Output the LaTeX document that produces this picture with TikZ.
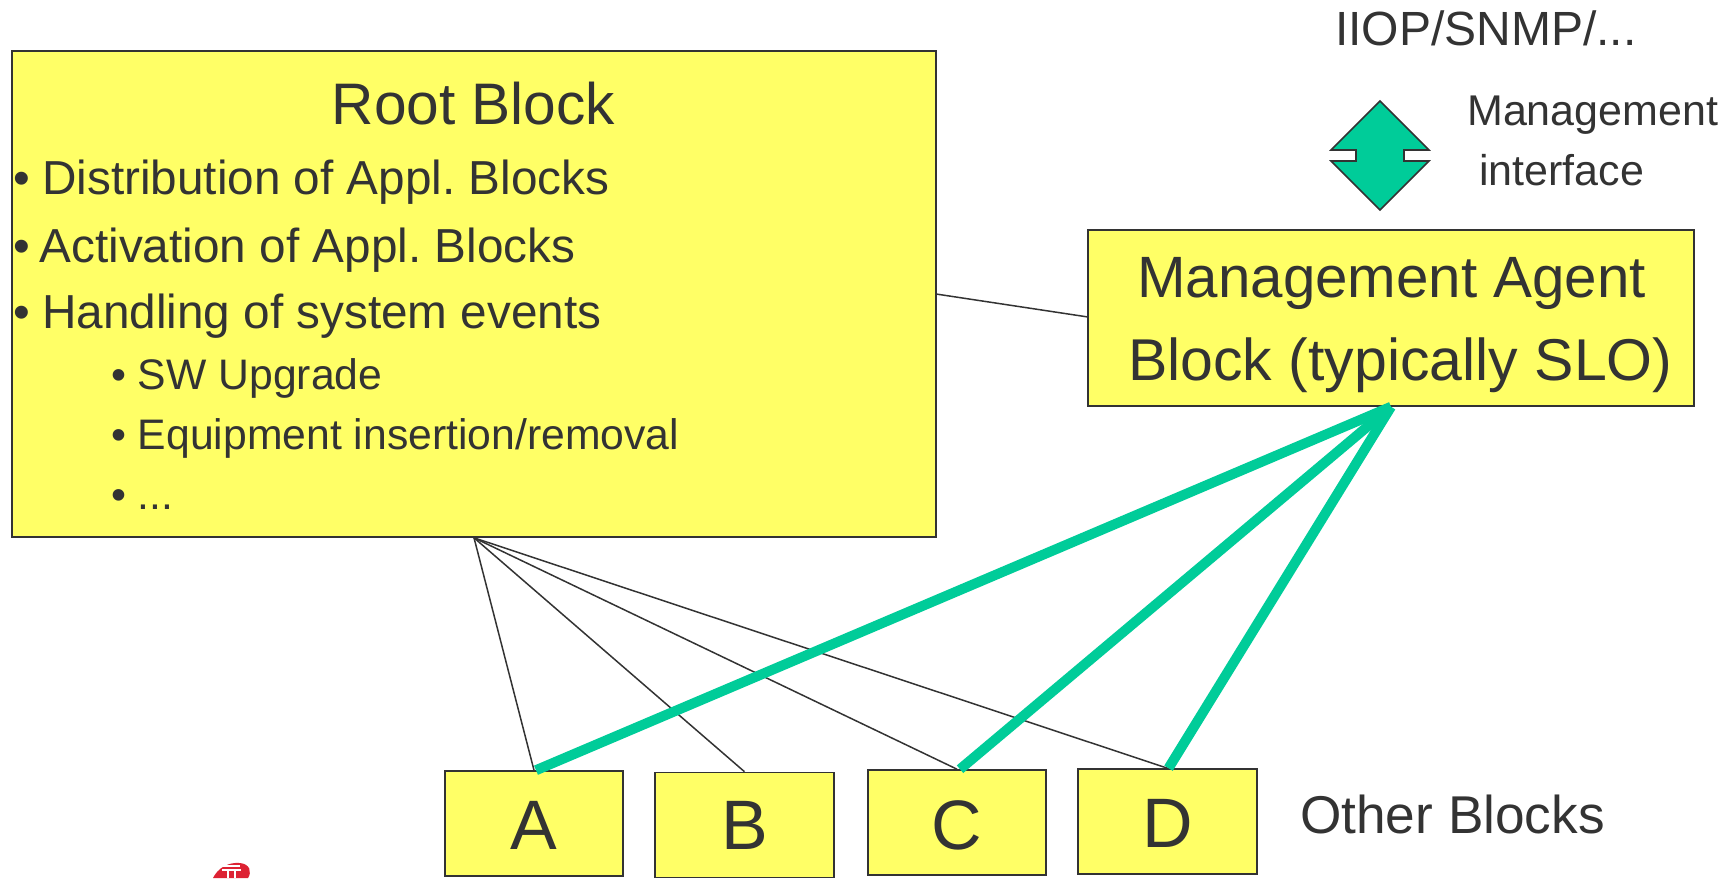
\documentclass[tikz,border=0pt]{standalone}
\usepackage{fontspec}
\setmainfont{Liberation Sans}
\definecolor{blockfill}{HTML}{FFFF66}
\definecolor{ink}{HTML}{333333}
\definecolor{agentgreen}{HTML}{00CC99}
\definecolor{logored}{HTML}{DD2233}
\newcommand{\fs}[1]{\fontsize{#1}{#1}\selectfont\frenchspacing}
\tikzset{
  block/.style={draw=ink,fill=blockfill,line width=1.6pt,inner sep=0pt},
  thinlink/.style={draw=ink,line width=1.5pt},
  greenlink/.style={draw=agentgreen,line width=10pt},
  label/.style={text=ink,inner sep=0pt,anchor=base west},
  clabel/.style={text=ink,inner sep=0pt,anchor=base},
}
\begin{document}
\begin{tikzpicture}[x=1pt,y=-1pt]
\useasboundingbox (0,0) rectangle (1734,878);
% logo
\begin{scope}
\clip (0,0) rectangle (1734,878);
\fill[logored] (213,878) .. controls (218,868) and (228,862) .. (240,863) .. controls (250,864) and (252,872) .. (248,878) -- cycle;
\draw[white,line width=1.6pt] (223,866) -- (240,866) (222,870) -- (241,870) (228,870) -- (228,878) (235,870) -- (235,878);
\end{scope}
% blocks
\node[block,minimum width=924pt,minimum height=486pt] (root) at (474,294) {};
\node[block,minimum width=606pt,minimum height=176pt] (agent) at (1391,318) {};
\node[block,minimum width=178pt,minimum height=105pt] (a) at (534,823.5) {};
\node[block,minimum width=179pt,minimum height=105pt] (b) at (744.5,825) {};
\node[block,minimum width=178pt,minimum height=105pt] (c) at (957,822.5) {};
\node[block,minimum width=179pt,minimum height=105pt] (d) at (1167.5,821.5) {};
% connectors
\coordinate (rootport) at (936,294);
\coordinate (agentport) at (1088,317);
\coordinate (ga) at ([xshift=2pt]a.north);
\coordinate (gc) at ([xshift=3pt]c.north);
\coordinate (gd) at ([xshift=1pt]d.north);
\draw[thinlink] (rootport) -- (agentport);
\draw[thinlink] (root.south) -- (a.north);
\draw[thinlink] (root.south) -- (b.north);
\draw[thinlink] (root.south) -- (c.north);
\draw[thinlink] (root.south) -- (d.north);
\draw[greenlink] (agent.south) -- (ga);
\draw[greenlink] (agent.south) -- (gc);
\draw[greenlink] (agent.south) -- (gd);
% double arrow
\draw[draw=ink,fill=agentgreen,line width=1.6pt,line join=miter]
  (1380,101) -- (1429,150) -- (1404,150) -- (1404,161) -- (1429,161) -- (1380,210)
  -- (1331,161) -- (1356,161) -- (1356,150) -- (1331,150) -- cycle;
% root text
\node[clabel,font=\fs{58.6}] (roottitle) at (473.5,124) {Root Block};
\node[label,font=\fs{47.7}] (l1) at (13.5,194) {•\kern-1.5pt{} Distribution of Appl. Blocks};
\node[label,font=\fs{47.7}] (l2) at (13.5,262) {•\kern-4pt{} Activation of Appl. Blocks};
\node[label,font=\fs{47.7}] (l3) at (13.5,328) {•\kern-1.5pt{} Handling of system events};
\node[label,font=\fs{42.7}] (l4) at (111,389.5) {• SW Upgrade};
\node[label,font=\fs{42.7}] (l5) at (111,449.5) {• Equipment insertion/removal};
\node[label,font=\fs{42.7}] (l6) at (111,509.5) {• ...};
% agent text
\node[label,font=\fs{58.3}] (m1) at (1137,297) {Management Agent};
\node[label,font=\fs{59}] (m2) at (1128,380) {Block (typically SLO)};
% other text
\node[label,font=\fs{48}] (iiop) at (1335,45) {IIOP/SNMP/...};
\node[label,font=\fs{43}] (mgmt) at (1467,125) {Management};
\node[label,font=\fs{43}] (intf) at (1479,185) {interface};
\node[label,font=\fs{53.2}] (other) at (1300,833) {Other Blocks};
\node[clabel,font=\fs{70}] (ta) at (534,849) {A};
\node[clabel,font=\fs{70}] (tb) at (744.5,849) {B};
\node[clabel,font=\fs{70}] (tc) at (957,849) {C};
\node[clabel,font=\fs{70}] (td) at (1167.5,847) {D};
\end{tikzpicture}
\end{document}
